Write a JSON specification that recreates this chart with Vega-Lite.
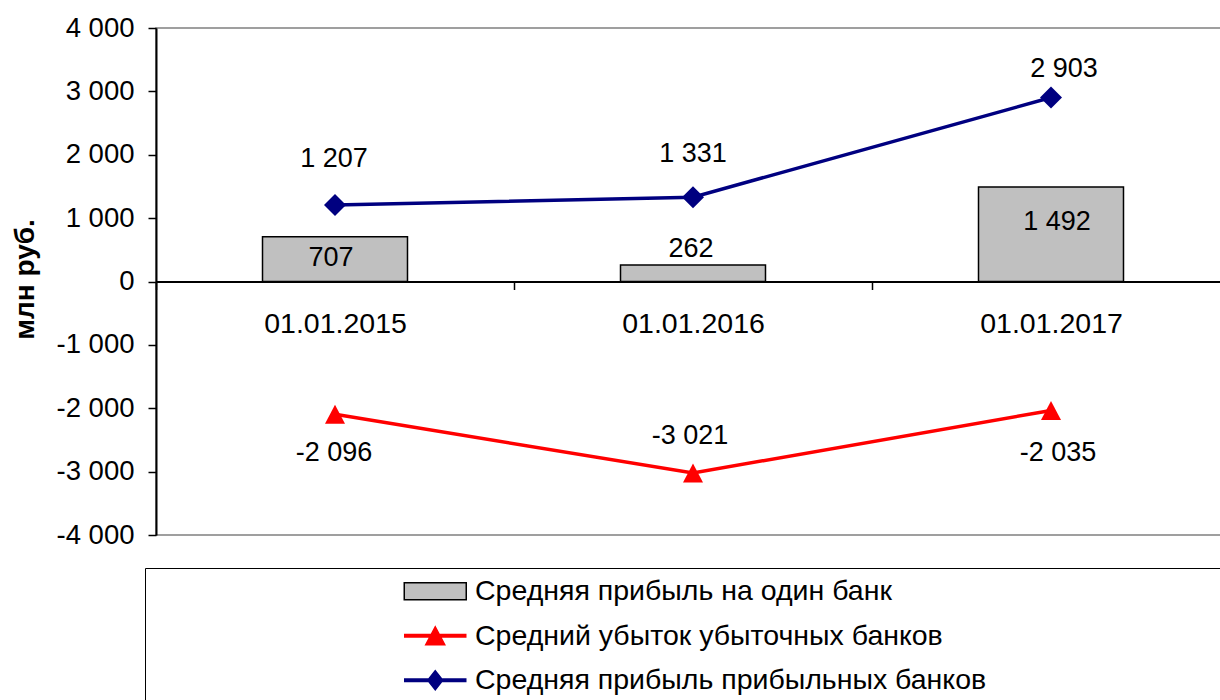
{
  "$schema": "https://vega.github.io/schema/vega-lite/v6.json",
  "width": 1074,
  "height": 507,
  "autosize": {"type": "none"},
  "padding": {"left": 156, "top": 28, "right": 0, "bottom": 165},
  "background": "white",
  "config": {
    "font": "Liberation Sans",
    "locale": {"number": {"decimal": ",", "thousands": " ", "grouping": [3], "currency": ["", ""], "minus": "-"}},
    "view": {"stroke": "#808080", "strokeWidth": 1.5},
    "axis": {"grid": false, "labelColor": "black", "domainColor": "black", "tickColor": "black", "labelFont": "Liberation Sans", "titleFont": "Liberation Sans", "titleColor": "black"},
    "legend": {"padding": 9, "strokeColor": "black", "fillColor": "white", "labelFont": "Liberation Sans", "labelFontSize": 28.5, "labelColor": "black", "labelLimit": 0, "rowPadding": 15.5, "symbolSize": 400, "symbolStrokeWidth": 1.5, "symbolOffset": 267, "labelOffset": 25.5}
  },
  "data": {
    "values": [
      {"date": "01.01.2015", "series": "Средняя прибыль на один банк", "value": 707},
      {"date": "01.01.2016", "series": "Средняя прибыль на один банк", "value": 262},
      {"date": "01.01.2017", "series": "Средняя прибыль на один банк", "value": 1492},
      {"date": "01.01.2015", "series": "Средний убыток убыточных банков", "value": -2096},
      {"date": "01.01.2016", "series": "Средний убыток убыточных банков", "value": -3021},
      {"date": "01.01.2017", "series": "Средний убыток убыточных банков", "value": -2035},
      {"date": "01.01.2015", "series": "Средняя прибыль прибыльных банков", "value": 1207},
      {"date": "01.01.2016", "series": "Средняя прибыль прибыльных банков", "value": 1331},
      {"date": "01.01.2017", "series": "Средняя прибыль прибыльных банков", "value": 2903}
    ]
  },
  "encoding": {
    "x": {
      "field": "date", "type": "nominal", "sort": null,
      "scale": {"type": "band", "paddingInner": 0, "paddingOuter": 0},
      "axis": {"title": null, "orient": "bottom", "offset": -253.5, "labelAngle": 0, "labelFontSize": 28.5, "labelPadding": 20, "tickBand": "extent", "tickSize": 8, "tickWidth": 1.5, "domainWidth": 2}
    },
    "y": {
      "field": "value", "type": "quantitative",
      "scale": {"domain": [-4000, 4000], "nice": false, "zero": false},
      "axis": {"title": "млн руб.", "values": [-4000, -3000, -2000, -1000, 0, 1000, 2000, 3000, 4000], "format": ",.0f", "labelFontSize": 27.5, "labelPadding": 14, "tickSize": 8, "tickWidth": 1.5, "domainWidth": 2, "titleFontSize": 28, "titleFontWeight": "bold", "titleAngle": 270, "titleAlign": "center", "titleBaseline": "alphabetic", "titleX": -123, "titleY": 251}
    }
  },
  "layer": [
    {
      "transform": [{"filter": {"field": "series", "equal": "Средняя прибыль на один банк"}}],
      "mark": {"type": "bar", "color": "#c0c0c0", "stroke": "black", "strokeWidth": 1.5, "width": {"band": 0.405}}
    },
    {
      "transform": [{"filter": {"field": "series", "equal": "Средний убыток убыточных банков"}}],
      "mark": {"type": "line", "color": "#ff0000", "strokeWidth": 3.5}
    },
    {
      "transform": [{"filter": {"field": "series", "equal": "Средний убыток убыточных банков"}}],
      "mark": {"type": "point", "shape": "M0,-0.95L1,0.95L-1,0.95Z", "size": 400, "filled": true, "color": "#ff0000", "opacity": 1}
    },
    {
      "transform": [{"filter": {"field": "series", "equal": "Средняя прибыль прибыльных банков"}}],
      "mark": {"type": "line", "color": "#000080", "strokeWidth": 3.5}
    },
    {
      "transform": [{"filter": {"field": "series", "equal": "Средняя прибыль прибыльных банков"}}],
      "mark": {"type": "point", "shape": "diamond", "size": 484, "filled": true, "color": "#000080", "opacity": 1}
    },
    {
      "transform": [{"filter": {"and": [{"field": "series", "equal": "Средняя прибыль прибыльных банков"}, {"field": "date", "equal": "01.01.2015"}]}}],
      "mark": {"type": "text", "fontSize": 27, "color": "black", "baseline": "middle", "dx": -1, "dy": -46},
      "encoding": {"text": {"field": "value", "type": "quantitative", "format": ","}}
    },
    {
      "transform": [{"filter": {"and": [{"field": "series", "equal": "Средняя прибыль прибыльных банков"}, {"field": "date", "equal": "01.01.2016"}]}}],
      "mark": {"type": "text", "fontSize": 27, "color": "black", "baseline": "middle", "dx": 0, "dy": -43},
      "encoding": {"text": {"field": "value", "type": "quantitative", "format": ","}}
    },
    {
      "transform": [{"filter": {"and": [{"field": "series", "equal": "Средняя прибыль прибыльных банков"}, {"field": "date", "equal": "01.01.2017"}]}}],
      "mark": {"type": "text", "fontSize": 27, "color": "black", "baseline": "middle", "dx": 13, "dy": -28.5},
      "encoding": {"text": {"field": "value", "type": "quantitative", "format": ","}}
    },
    {
      "transform": [{"filter": {"and": [{"field": "series", "equal": "Средний убыток убыточных банков"}, {"field": "date", "equal": "01.01.2015"}]}}],
      "mark": {"type": "text", "fontSize": 27, "color": "black", "baseline": "middle", "dx": -1, "dy": 39},
      "encoding": {"text": {"field": "value", "type": "quantitative", "format": ","}}
    },
    {
      "transform": [{"filter": {"and": [{"field": "series", "equal": "Средний убыток убыточных банков"}, {"field": "date", "equal": "01.01.2016"}]}}],
      "mark": {"type": "text", "fontSize": 27, "color": "black", "baseline": "middle", "dx": -3, "dy": -36.5},
      "encoding": {"text": {"field": "value", "type": "quantitative", "format": ","}}
    },
    {
      "transform": [{"filter": {"and": [{"field": "series", "equal": "Средний убыток убыточных банков"}, {"field": "date", "equal": "01.01.2017"}]}}],
      "mark": {"type": "text", "fontSize": 27, "color": "black", "baseline": "middle", "dx": 7, "dy": 43},
      "encoding": {"text": {"field": "value", "type": "quantitative", "format": ","}}
    },
    {
      "transform": [{"filter": {"and": [{"field": "series", "equal": "Средняя прибыль на один банк"}, {"field": "date", "equal": "01.01.2015"}]}}],
      "mark": {"type": "text", "fontSize": 27, "color": "black", "baseline": "middle", "dx": -4, "dy": 21},
      "encoding": {"text": {"field": "value", "type": "quantitative", "format": ","}}
    },
    {
      "transform": [{"filter": {"and": [{"field": "series", "equal": "Средняя прибыль на один банк"}, {"field": "date", "equal": "01.01.2016"}]}}],
      "mark": {"type": "text", "fontSize": 27, "color": "black", "baseline": "middle", "dx": -2, "dy": -16},
      "encoding": {"text": {"field": "value", "type": "quantitative", "format": ","}}
    },
    {
      "transform": [{"filter": {"and": [{"field": "series", "equal": "Средняя прибыль на один банк"}, {"field": "date", "equal": "01.01.2017"}]}}],
      "mark": {"type": "text", "fontSize": 27, "color": "black", "baseline": "middle", "dx": 6, "dy": 35},
      "encoding": {"text": {"field": "value", "type": "quantitative", "format": ","}}
    },
    {
      "transform": [{"filter": "false"}],
      "mark": {"type": "point", "filled": true, "size": 400, "strokeWidth": 1.5, "opacity": 1},
      "encoding": {
        "fill": {
          "field": "series", "type": "nominal",
          "scale": {"domain": ["Средняя прибыль на один банк", "Средний убыток убыточных банков", "Средняя прибыль прибыльных банков"], "range": ["#c0c0c0", "#ff0000", "#000080"]},
          "legend": {"title": null, "orient": "none", "legendX": -11, "legendY": 540, "labelExpr": "datum.label + '\u00a0\u00a0\u00a0\u00a0\u00a0\u00a0\u00a0\u00a0\u00a0\u00a0\u00a0\u00a0\u00a0\u00a0\u00a0\u00a0\u00a0\u00a0\u00a0\u00a0\u00a0\u00a0\u00a0\u00a0\u00a0\u00a0\u00a0\u00a0\u00a0\u200b'"}
        },
        "stroke": {
          "field": "series", "type": "nominal",
          "scale": {"domain": ["Средняя прибыль на один банк", "Средний убыток убыточных банков", "Средняя прибыль прибыльных банков"], "range": ["#000000", "#ff0000", "#000080"]},
          "legend": {"title": null, "orient": "none", "legendX": -11, "legendY": 540, "labelExpr": "datum.label + '\u00a0\u00a0\u00a0\u00a0\u00a0\u00a0\u00a0\u00a0\u00a0\u00a0\u00a0\u00a0\u00a0\u00a0\u00a0\u00a0\u00a0\u00a0\u00a0\u00a0\u00a0\u00a0\u00a0\u00a0\u00a0\u00a0\u00a0\u00a0\u00a0\u200b'"}
        },
        "shape": {
          "field": "series", "type": "nominal",
          "scale": {"domain": ["Средняя прибыль на один банк", "Средний убыток убыточных банков", "Средняя прибыль прибыльных банков"], "range": ["M-3.1,-0.85H3.1V0.85H-3.1Z", "M-3.05,-0.13H3.05V0.13H-3.05Z M0,-0.9L0.95,0.9H-0.95Z", "M-3.05,-0.13H3.05V0.13H-3.05Z M0,-0.95L0.75,0L0,0.95L-0.75,0Z"]},
          "legend": {"title": null, "orient": "none", "legendX": -11, "legendY": 540, "labelExpr": "datum.label + '\u00a0\u00a0\u00a0\u00a0\u00a0\u00a0\u00a0\u00a0\u00a0\u00a0\u00a0\u00a0\u00a0\u00a0\u00a0\u00a0\u00a0\u00a0\u00a0\u00a0\u00a0\u00a0\u00a0\u00a0\u00a0\u00a0\u00a0\u00a0\u00a0\u200b'"}
        }
      }
    }
  ]
}
